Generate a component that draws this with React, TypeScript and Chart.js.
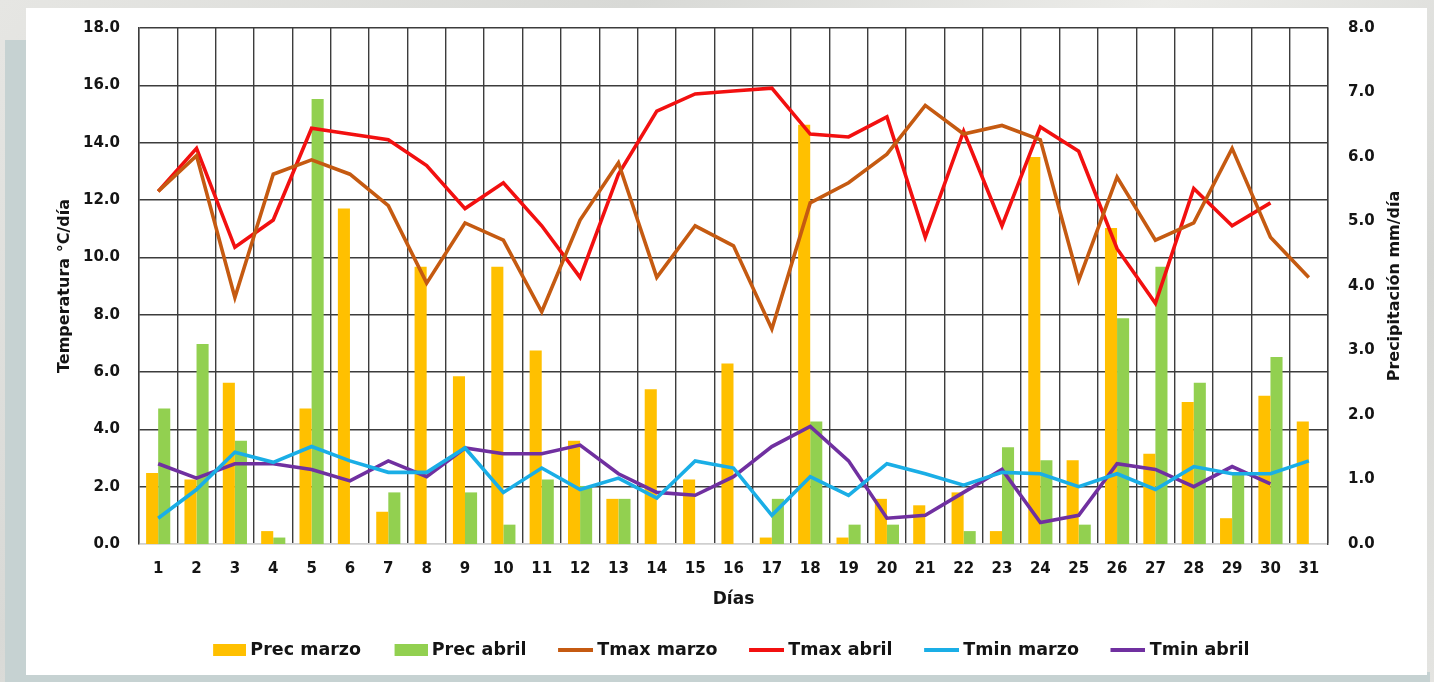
import React, { useEffect, useRef } from 'react';
import { Chart, registerables } from 'chart.js';

Chart.register(...registerables);

// ---------- data ----------
const days = ['1', '2', '3', '4', '5', '6', '7', '8', '9', '10', '11', '12', '13', '14', '15', '16', '17', '18', '19', '20', '21', '22', '23', '24', '25', '26', '27', '28', '29', '30', '31'];

const precMarzo = [1.1, 1.0, 2.5, 0.2, 2.1, 5.2, 0.5, 4.3, 2.6, 4.3, 3.0, 1.6, 0.7, 2.4, 1.0, 2.8, 0.1, 6.5, 0.1, 0.7, 0.6, 0.8, 0.2, 6.0, 1.3, 4.9, 1.4, 2.2, 0.4, 2.3, 1.9];
const precAbril = [2.1, 3.1, 1.6, 0.1, 6.9, 0, 0.8, 0, 0.8, 0.3, 1.0, 0.9, 0.7, 0, 0, 0, 0.7, 1.9, 0.3, 0.3, 0, 0.2, 1.5, 1.3, 0.3, 3.5, 4.3, 2.5, 1.1, 2.9, 0];

const tmaxMarzo = [12.3, 13.55, 8.6, 12.9, 13.4, 12.9, 11.8, 9.1, 11.2, 10.6, 8.1, 11.3, 13.3, 9.3, 11.1, 10.4, 7.5, 11.9, 12.6, 13.6, 15.3, 14.3, 14.6, 14.1, 9.2, 12.8, 10.6, 11.2, 13.8, 10.7, 9.3];
const tmaxAbril = [12.3, 13.8, 10.35, 11.3, 14.5, 14.3, 14.1, 13.2, 11.7, 12.6, 11.1, 9.3, 12.9, 15.1, 15.7, 15.8, 15.9, 14.3, 14.2, 14.9, 10.7, 14.4, 11.1, 14.55, 13.7, 10.3, 8.4, 12.4, 11.1, 11.9, null];
const tminMarzo = [0.9, 1.9, 3.2, 2.85, 3.4, 2.9, 2.5, 2.5, 3.35, 1.8, 2.65, 1.9, 2.3, 1.6, 2.9, 2.65, 1.0, 2.35, 1.7, 2.8, 2.45, 2.05, 2.5, 2.45, 2.0, 2.45, 1.9, 2.7, 2.45, 2.45, 2.9];
const tminAbril = [2.8, 2.3, 2.8, 2.8, 2.6, 2.2, 2.9, 2.35, 3.35, 3.15, 3.15, 3.45, 2.45, 1.8, 1.7, 2.35, 3.4, 4.1, 2.9, 0.9, 1.0, 1.8, 2.6, 0.75, 1.0, 2.8, 2.6, 2.0, 2.7, 2.1, null];

const seriesNames = ['Prec marzo', 'Prec abril', 'Tmax marzo', 'Tmax abril', 'Tmin marzo', 'Tmin abril'];

const TEMP_MAX = 18;
const TEMP_STEP = 2;
const PREC_MAX = 8;
const PREC_STEP = 1;

// ---------- styles ----------
const C_ORANGE = '#FFC000';
const C_GREEN = '#92D050';
const C_BROWN = '#C55A11';
const C_RED = '#F21010';
const C_CYAN = '#1AAEE6';
const C_PURPLE = '#7030A0';
const GRID = '#3c3c3c';
const FONT = '"DejaVu Sans", sans-serif';
const TEXT = '#141414';

const LEG_W = 38; // pointStyleWidth
function legendSymbol(color: string, kind: 'rect' | 'line'): HTMLCanvasElement {
  const c = document.createElement('canvas');
  const w = LEG_W + 9;
  const h = kind === 'rect' ? 12 : 4;
  c.width = w;
  c.height = h;
  const g = c.getContext('2d')!;
  g.fillStyle = color;
  if (kind === 'rect') g.fillRect(w - 33, 0, 33, 12);
  else g.fillRect(w - 35, 0, 35, 4);
  return c;
}

const rightTitlePlugin = {
  id: 'rightTitle',
  afterDraw(chart: any) {
    const s = chart.scales.y1;
    const ca = chart.chartArea;
    const ctx = chart.ctx;
    ctx.save();
    ctx.translate(s.right - 32, (ca.top + ca.bottom) / 2);
    ctx.rotate(-Math.PI / 2);
    ctx.font = `bold 16px ${FONT}`;
    ctx.fillStyle = TEXT;
    ctx.textAlign = 'center';
    ctx.textBaseline = 'middle';
    ctx.fillText('Precipitación mm/día', 0, 0);
    ctx.restore();
  },
};

export default function App() {
  const ref = useRef<HTMLCanvasElement | null>(null);

  useEffect(() => {
    if (!ref.current) return;
    const symbols = [
      legendSymbol(C_ORANGE, 'rect'),
      legendSymbol(C_GREEN, 'rect'),
      legendSymbol(C_BROWN, 'line'),
      legendSymbol(C_RED, 'line'),
      legendSymbol(C_CYAN, 'line'),
      legendSymbol(C_PURPLE, 'line'),
    ];
    const lineDs = (label: string, data: (number | null)[], color: string) => ({
      type: 'line' as const,
      label,
      data,
      yAxisID: 'y',
      borderColor: color,
      backgroundColor: color,
      borderWidth: 3.6,
      pointRadius: 0,
      tension: 0,
      fill: false,
      order: 0,
      spanGaps: false,
    });
    const chart = new Chart(ref.current, {
      type: 'bar',
      data: {
        labels: days,
        datasets: [
          { type: 'bar', label: seriesNames[0], data: precMarzo, yAxisID: 'y1', backgroundColor: C_ORANGE, barPercentage: 1, categoryPercentage: 0.63, order: 1 },
          { type: 'bar', label: seriesNames[1], data: precAbril, yAxisID: 'y1', backgroundColor: C_GREEN, barPercentage: 1, categoryPercentage: 0.63, order: 1 },
          lineDs(seriesNames[2], tmaxMarzo, C_BROWN),
          lineDs(seriesNames[3], tmaxAbril, C_RED),
          lineDs(seriesNames[4], tminMarzo, C_CYAN),
          lineDs(seriesNames[5], tminAbril, C_PURPLE),
        ] as any,
      },
      options: {
        responsive: false,
        animation: false,
        layout: { padding: { top: 20, bottom: 6.25, left: 0, right: 0 } },
        plugins: {
          tooltip: { enabled: false },
          legend: {
            position: 'bottom',
            labels: {
              usePointStyle: true,
              pointStyleWidth: LEG_W,
              padding: 24,
              color: TEXT,
              font: { family: FONT, size: 17.5, weight: 'bold' },
              generateLabels: () =>
                seriesNames.map((name, i) => ({
                  text: name,
                  pointStyle: symbols[i],
                  fillStyle: 'transparent',
                  strokeStyle: 'transparent',
                  lineWidth: 0,
                  hidden: false,
                  datasetIndex: i,
                  fontColor: TEXT,
                })) as any,
            },
          },
        },
        scales: {
          x: {
            grid: { color: GRID, lineWidth: 1.4, drawTicks: false, offset: true },
            border: { display: true, color: '#cfcfcf', width: 1.5 },
            ticks: { color: TEXT, padding: 16, font: { family: FONT, size: 15, weight: 'bold' } },
            title: { display: true, text: 'Días', color: TEXT, font: { family: FONT, size: 17, weight: 'bold' }, padding: { top: 0, bottom: 7.75 } },
            afterFit: (s: any) => { s.height = 73.25; },
          },
          y: {
            position: 'left',
            min: 0,
            max: TEMP_MAX,
            ticks: {
              stepSize: TEMP_STEP,
              color: TEXT,
              padding: 19,
              font: { family: FONT, size: 15, weight: 'bold' },
              callback: (v: any) => Number(v).toFixed(1),
            },
            grid: {
              drawTicks: false,
              lineWidth: 1.4,
              color: (ctx: any) => (ctx.tick && ctx.tick.value === 0 ? '#cfcfcf' : GRID),
            },
            border: { display: true, color: GRID, width: 1.4 },
            title: { display: true, text: 'Temperatura °C/día', color: TEXT, font: { family: FONT, size: 16, weight: 'bold' }, padding: { top: 29.4, bottom: 0 } },
            afterFit: (s: any) => { s.width = 113; s.paddingTop = 0; s.paddingBottom = 0; },
          },
          y1: {
            position: 'right',
            min: 0,
            max: PREC_MAX,
            ticks: {
              stepSize: PREC_STEP,
              color: TEXT,
              padding: 20,
              font: { family: FONT, size: 15, weight: 'bold' },
              callback: (v: any) => Number(v).toFixed(1),
            },
            grid: { display: false, drawTicks: false },
            border: { display: true, color: GRID, width: 1.4 },
            afterFit: (s: any) => { s.width = 99; s.paddingTop = 0; s.paddingBottom = 0; },
          },
        },
      } as any,
      plugins: [rightTitlePlugin],
    });
    return () => chart.destroy();
  }, []);

  return (
    <div
      style={{
        position: 'fixed',
        left: 0,
        top: 0,
        width: 1434,
        height: 682,
        overflow: 'hidden',
        background: 'linear-gradient(135deg, #e6e6e3 0%, #d8d9d6 30%, #ecece9 55%, #d6d7d4 80%, #e4e4e1 100%)',
      }}
    >
      <div style={{ position: 'absolute', left: 5, top: 40, width: 30, height: 642, background: '#c6d2d2' }} />
      <div style={{ position: 'absolute', left: 5, top: 672, width: 1425, height: 10, background: '#c6d2d2' }} />
      <div style={{ position: 'absolute', left: 26, top: 8, width: 1401, height: 667, background: '#ffffff' }}>
        <canvas ref={ref} width={1401} height={667} style={{ display: 'block' }} />
      </div>
    </div>
  );
}
